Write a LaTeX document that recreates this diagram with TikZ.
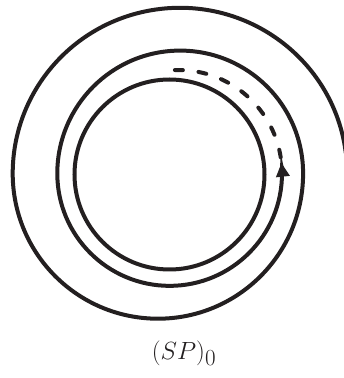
\documentclass[tikz,border=0pt]{standalone}
\usetikzlibrary{arrows.meta}
\definecolor{ink}{RGB}{35,31,32}
\begin{document}
\begin{tikzpicture}[x=1pt,y=1pt,
  spiralline/.style={draw=ink, line width=4pt},
  dashline/.style={draw=ink, line width=4pt, line cap=round, dash pattern=on 8pt off 15.7pt},
  labeltext/.style={text=ink, anchor=base, inner sep=0pt, font=\fontsize{30}{36}\selectfont}]
\useasboundingbox (0,0) rectangle (344,378);
% inner circle
\draw[spiralline] (169.5,203.5) circle[radius=95];
% spiral
\coordinate (sstart) at ([shift={(7:167.2 and 165.7)}]179.9,204.5);
\draw[spiralline, -{Triangle[length=14pt,width=13pt]}]
  (sstart) arc[start angle=7,end angle=180,x radius=167.2,y radius=165.7]
  arc[start angle=180,end angle=360,radius=145.2]
  arc[start angle=0,end angle=180,radius=122.9]
  arc[start angle=180,end angle=360,radius=112.35]
  arc[start angle=0,end angle=6,radius=103.5];
% dashed continuation
\coordinate (dstart) at ([shift={(92:103.5)}]178.5,204.5);
\draw[dashline] (dstart) arc[start angle=92,end angle=9,radius=103.5];
\node[labeltext] (label) at (184,19) {$(SP)_{\mbox{\fontsize{23}{28}\selectfont 0}}$};
\end{tikzpicture}
\end{document}
